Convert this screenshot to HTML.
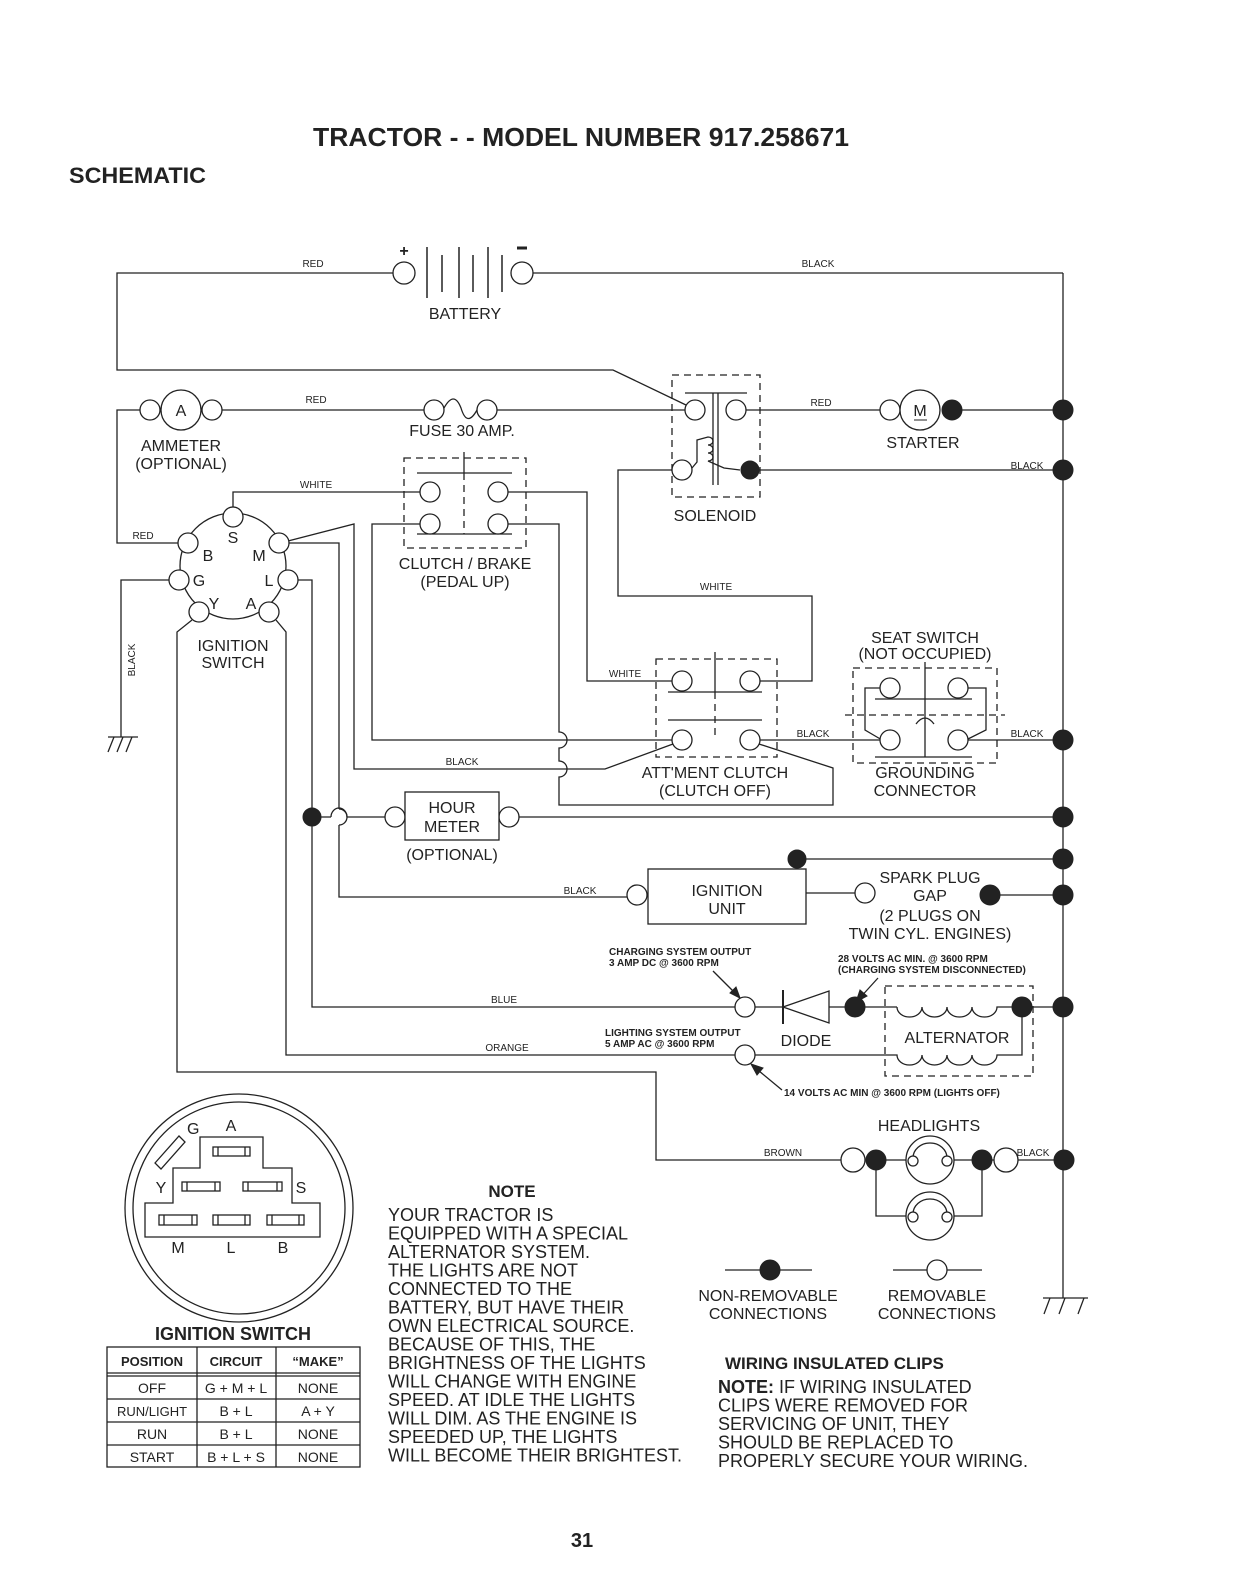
<!DOCTYPE html>
<html><head><meta charset="utf-8"><style>
html,body{margin:0;padding:0;background:#fff;}
svg{display:block;font-family:"Liberation Sans",Arial,sans-serif;}
.w{fill:none;stroke:#222;stroke-width:1.3;}
.o{fill:#fff;stroke:#222;stroke-width:1.3;}
.f{fill:#222;stroke:#222;stroke-width:1;}
.d{fill:none;stroke:#222;stroke-width:1.3;stroke-dasharray:7 5;}
.s{font-size:10px;fill:#222;}
.l{font-size:16px;fill:#222;}
.m{font-size:10px;fill:#222;font-weight:bold;}
</style></head><body>
<svg width="1244" height="1584" viewBox="0 0 1244 1584" xmlns="http://www.w3.org/2000/svg">
<text x="581" y="146" text-anchor="middle" font-size="26" font-weight="bold" fill="#222" textLength="536" lengthAdjust="spacingAndGlyphs">TRACTOR - - MODEL NUMBER 917.258671</text>
<text x="69" y="183" font-size="22" font-weight="bold" fill="#222" textLength="137" lengthAdjust="spacingAndGlyphs">SCHEMATIC</text>

<!-- battery -->
<polyline class="w" points="393,273 117,273 117,370 613,370 686,405"/>
<line class="w" x1="533" y1="273" x2="1063" y2="273"/>
<line class="w" x1="1063" y1="273" x2="1063" y2="1298"/>
<circle class="o" cx="404" cy="273" r="11"/>
<circle class="o" cx="522" cy="273" r="11"/>
<g stroke="#222" stroke-width="1.5">
<line x1="427" y1="247" x2="427" y2="298"/><line x1="442" y1="255" x2="442" y2="292"/>
<line x1="459" y1="247" x2="459" y2="298"/><line x1="473" y1="255" x2="473" y2="292"/>
<line x1="488" y1="247" x2="488" y2="298"/><line x1="502" y1="255" x2="502" y2="292"/>
</g>
<text x="404" y="256" text-anchor="middle" font-size="16" font-weight="bold" fill="#222">+</text>
<line x1="517" y1="248" x2="527" y2="248" stroke="#222" stroke-width="3"/>
<text x="465" y="319" text-anchor="middle" class="l">BATTERY</text>
<text x="313" y="267" text-anchor="middle" class="s">RED</text>
<text x="818" y="267" text-anchor="middle" class="s">BLACK</text>

<!-- ammeter -->
<polyline class="w" points="140,410 117,410 117,543 178,543"/>
<circle class="o" cx="150" cy="410" r="10"/>
<circle class="o" cx="181" cy="410" r="20"/>
<circle class="o" cx="212" cy="410" r="10"/>
<text x="181" y="416" text-anchor="middle" class="l">A</text>
<text x="181" y="451" text-anchor="middle" class="l">AMMETER</text>
<text x="181" y="469" text-anchor="middle" class="l">(OPTIONAL)</text>
<line class="w" x1="222" y1="410" x2="424" y2="410"/>
<text x="316" y="403" text-anchor="middle" class="s">RED</text>
<circle class="o" cx="434" cy="410" r="10"/>
<circle class="o" cx="487" cy="410" r="10"/>
<path class="w" d="M444,408 Q454,390 461,408 Q467,428 477,410"/>
<line class="w" x1="497" y1="410" x2="685" y2="410"/>
<text x="462" y="436" text-anchor="middle" class="l">FUSE 30 AMP.</text>

<!-- clutch/brake -->
<rect class="d" x="404" y="458" width="122" height="90"/>
<line class="w" x1="464" y1="452" x2="464" y2="473"/>
<line class="d" x1="464" y1="473" x2="464" y2="534"/>
<line class="w" x1="417" y1="473" x2="512" y2="473"/>
<line class="w" x1="417" y1="534" x2="512" y2="534"/>
<polyline class="w" points="233,507 233,492 420,492"/>
<text x="316" y="488" text-anchor="middle" class="s">WHITE</text>
<circle class="o" cx="430" cy="492" r="10"/>
<circle class="o" cx="498" cy="492" r="10"/>
<circle class="o" cx="430" cy="524" r="10"/>
<circle class="o" cx="498" cy="524" r="10"/>
<text x="465" y="569" text-anchor="middle" class="l">CLUTCH / BRAKE</text>
<text x="465" y="587" text-anchor="middle" class="l">(PEDAL UP)</text>
<polyline class="w" points="508,492 587,492 587,681 672,681"/>
<text x="625" y="677" text-anchor="middle" class="s">WHITE</text>
<polyline class="w" points="420,524 372,524 372,740 672,740"/>
<path class="w" d="M508,524 L559,524 L559,732 a8,8 0 0 1 0,16 L559,761 a8,8 0 0 1 0,16 L559,805 L833,805 L833,768 L759,744"/>

<!-- ignition switch -->
<circle class="w" cx="233" cy="566" r="53"/>
<polyline class="w" points="192,620 177,632 177,1072 656,1072 656,1160 841,1160"/>
<polyline class="w" points="276,620 286,632 286,1055 735,1055"/>
<polyline class="w" points="169,580 121,580 121,737"/>
<line class="w" x1="108" y1="737" x2="138" y2="737"/>
<g class="w"><line x1="114" y1="737" x2="108" y2="752"/><line x1="123" y1="737" x2="117" y2="752"/><line x1="132" y1="737" x2="126" y2="752"/></g>
<text transform="translate(135,660) rotate(-90)" text-anchor="middle" class="s">BLACK</text>
<text x="143" y="539" text-anchor="middle" class="s">RED</text>
<polyline class="w" points="288,541 354,524 354,769 605,769 673,744"/>
<polyline class="w" points="289,543 339,543 339,809"/>
<path class="w" d="M339,809 a8,8 0 0 1 0,16"/>
<polyline class="w" points="339,825 339,897 627,897"/>
<polyline class="w" points="298,580 312,580 312,1007 735,1007"/>
<circle class="o" cx="233" cy="517" r="10"/>
<circle class="o" cx="188" cy="543" r="10"/>
<circle class="o" cx="279" cy="543" r="10"/>
<circle class="o" cx="179" cy="580" r="10"/>
<circle class="o" cx="288" cy="580" r="10"/>
<circle class="o" cx="199" cy="612" r="10"/>
<circle class="o" cx="269" cy="612" r="10"/>
<g class="l"><text x="233" y="543" text-anchor="middle">S</text><text x="208" y="561" text-anchor="middle">B</text>
<text x="259" y="561" text-anchor="middle">M</text><text x="199" y="586" text-anchor="middle">G</text>
<text x="269" y="586" text-anchor="middle">L</text><text x="214" y="609" text-anchor="middle">Y</text>
<text x="251" y="609" text-anchor="middle">A</text></g>
<text x="233" y="651" text-anchor="middle" class="l">IGNITION</text>
<text x="233" y="668" text-anchor="middle" class="l">SWITCH</text>

<!-- solenoid -->
<rect class="d" x="672" y="375" width="88" height="122"/>
<line class="w" x1="685" y1="393" x2="747" y2="393"/>
<line class="w" x1="713" y1="393" x2="713" y2="485"/>
<line class="w" x1="718" y1="393" x2="718" y2="485"/>
<path class="w" d="M692,468 L697,462 L697,440 L708,437 a5,4 0 0 1 0,8 a5,4 0 0 1 0,8 a5,4 0 0 1 0,8 L724,468 L740,470"/>
<circle class="o" cx="695" cy="410" r="10"/>
<circle class="o" cx="736" cy="410" r="10"/>
<circle class="o" cx="682" cy="470" r="10"/>
<circle class="f" cx="750" cy="470" r="9"/>
<text x="715" y="521" text-anchor="middle" class="l">SOLENOID</text>
<polyline class="w" points="672,470 618,470 618,596 812,596 812,681 760,681"/>
<text x="716" y="590" text-anchor="middle" class="s">WHITE</text>
<line class="w" x1="746" y1="410" x2="880" y2="410"/>
<text x="821" y="406" text-anchor="middle" class="s">RED</text>
<circle class="o" cx="890" cy="410" r="10"/>
<circle class="o" cx="920" cy="410" r="20"/>
<text x="920" y="416" text-anchor="middle" class="l">M</text>
<line x1="914" y1="420" x2="927" y2="420" stroke="#222" stroke-width="1"/>
<circle class="f" cx="952" cy="410" r="10"/>
<line class="w" x1="962" y1="410" x2="1063" y2="410"/>
<text x="923" y="448" text-anchor="middle" class="l">STARTER</text>
<line class="w" x1="759" y1="470" x2="1063" y2="470"/>
<text x="1027" y="469" text-anchor="middle" class="s">BLACK</text>

<!-- attment clutch -->
<rect class="d" x="656" y="659" width="121" height="98"/>
<line class="w" x1="715" y1="652" x2="715" y2="692"/>
<line class="d" x1="715" y1="692" x2="715" y2="740"/>
<line class="w" x1="668" y1="692" x2="762" y2="692"/>
<line class="w" x1="668" y1="720" x2="762" y2="720"/>
<circle class="o" cx="682" cy="681" r="10"/>
<circle class="o" cx="750" cy="681" r="10"/>
<circle class="o" cx="682" cy="740" r="10"/>
<circle class="o" cx="750" cy="740" r="10"/>
<text x="715" y="778" text-anchor="middle" class="l">ATT'MENT CLUTCH</text>
<text x="715" y="796" text-anchor="middle" class="l">(CLUTCH OFF)</text>
<line class="w" x1="760" y1="740" x2="880" y2="740"/>
<text x="813" y="737" text-anchor="middle" class="s">BLACK</text>
<text x="462" y="765" text-anchor="middle" class="s">BLACK</text>

<!-- seat switch -->
<rect class="d" x="853" y="668" width="144" height="95"/>
<line class="d" x1="845" y1="715" x2="1005" y2="715"/>
<line class="w" x1="925" y1="662" x2="925" y2="757"/>
<line class="w" x1="875" y1="699" x2="972" y2="699"/>
<line class="w" x1="875" y1="757" x2="972" y2="757"/>
<path class="w" d="M916,724 Q925,712 934,724"/>
<polyline class="w" points="880,688 865,688 865,730 882,740"/>
<polyline class="w" points="968,688 986,688 986,730 966,740"/>
<circle class="o" cx="890" cy="688" r="10"/>
<circle class="o" cx="958" cy="688" r="10"/>
<circle class="o" cx="890" cy="740" r="10"/>
<circle class="o" cx="958" cy="740" r="10"/>
<line class="w" x1="968" y1="740" x2="1063" y2="740"/>
<text x="1027" y="737" text-anchor="middle" class="s">BLACK</text>
<text x="925" y="643" text-anchor="middle" class="l">SEAT SWITCH</text>
<text x="925" y="659" text-anchor="middle" class="l">(NOT OCCUPIED)</text>
<text x="925" y="778" text-anchor="middle" class="l">GROUNDING</text>
<text x="925" y="796" text-anchor="middle" class="l">CONNECTOR</text>

<!-- hour meter -->
<polyline class="w" points="312,817 331,817"/>
<path class="w" d="M331,817 a8,9 0 0 1 16,0"/>
<line class="w" x1="347" y1="817" x2="385" y2="817"/>
<circle class="o" cx="395" cy="817" r="10"/>
<circle class="o" cx="509" cy="817" r="10"/>
<rect class="o" x="405" y="792" width="94" height="48"/>
<text x="452" y="813" text-anchor="middle" class="l">HOUR</text>
<text x="452" y="832" text-anchor="middle" class="l">METER</text>
<text x="452" y="860" text-anchor="middle" class="l">(OPTIONAL)</text>
<line class="w" x1="519" y1="817" x2="1063" y2="817"/>
<circle class="f" cx="312" cy="817" r="9"/>

<!-- ignition unit -->
<text x="580" y="894" text-anchor="middle" class="s">BLACK</text>
<circle class="o" cx="637" cy="895" r="10"/>
<rect class="o" x="648" y="869" width="158" height="55"/>
<text x="727" y="896" text-anchor="middle" class="l">IGNITION</text>
<text x="727" y="914" text-anchor="middle" class="l">UNIT</text>
<line class="w" x1="806" y1="893" x2="855" y2="893"/>
<circle class="o" cx="865" cy="893" r="10"/>
<line class="w" x1="797" y1="859" x2="1063" y2="859"/>
<circle class="f" cx="797" cy="859" r="9"/>
<line class="w" x1="990" y1="895" x2="1063" y2="895"/>
<circle class="f" cx="990" cy="895" r="10"/>
<text x="930" y="883" text-anchor="middle" class="l">SPARK PLUG</text>
<text x="930" y="901" text-anchor="middle" class="l">GAP</text>
<text x="930" y="921" text-anchor="middle" class="l">(2 PLUGS ON</text>
<text x="930" y="939" text-anchor="middle" class="l">TWIN CYL. ENGINES)</text>

<!-- charging -->
<text x="609" y="955" class="m" font-size="9">CHARGING SYSTEM OUTPUT</text>
<text x="609" y="966" class="m" font-size="9">3 AMP DC @ 3600 RPM</text>
<line class="w" x1="713" y1="971" x2="738" y2="996"/>
<polygon class="f" points="740,998 730,993 736,987"/>
<text x="838" y="962" class="m" font-size="9">28 VOLTS AC MIN. @ 3600 RPM</text>
<text x="838" y="973" class="m" font-size="9">(CHARGING SYSTEM DISCONNECTED)</text>
<line class="w" x1="878" y1="978" x2="858" y2="1000"/>
<polygon class="f" points="856,1002 860,990 867,996"/>
<text x="504" y="1003" text-anchor="middle" class="s">BLUE</text>
<circle class="o" cx="745" cy="1007" r="10"/>
<line class="w" x1="755" y1="1007" x2="783" y2="1007"/>
<line x1="783" y1="990" x2="783" y2="1024" stroke="#222" stroke-width="2"/>
<polygon class="o" points="783,1007 829,991 829,1023"/>
<line class="w" x1="829" y1="1007" x2="897" y2="1007"/>
<circle class="f" cx="855" cy="1007" r="10"/>
<text x="806" y="1046" text-anchor="middle" class="l">DIODE</text>
<rect class="d" x="885" y="986" width="148" height="90"/>
<path class="w" d="M897,1007 a12.5,10 0 0 0 25,0 a12.5,10 0 0 0 25,0 a12.5,10 0 0 0 25,0 a12.5,10 0 0 0 25,0 L1063,1007"/>
<path class="w" d="M755,1055 L897,1055 a12.5,10 0 0 0 25,0 a12.5,10 0 0 0 25,0 a12.5,10 0 0 0 25,0 a12.5,10 0 0 0 25,0 L1022,1055 L1022,1007"/>
<circle class="f" cx="1022" cy="1007" r="10"/>
<text x="957" y="1043" text-anchor="middle" class="l">ALTERNATOR</text>
<circle class="o" cx="745" cy="1055" r="10"/>
<text x="507" y="1051" text-anchor="middle" class="s">ORANGE</text>
<text x="605" y="1036" class="m" font-size="9">LIGHTING SYSTEM OUTPUT</text>
<text x="605" y="1047" class="m" font-size="9">5 AMP AC @ 3600 RPM</text>
<line class="w" x1="782" y1="1090" x2="753" y2="1066"/>
<polygon class="f" points="751,1064 763,1068 757,1075"/>
<text x="784" y="1096" class="m" font-size="9">14 VOLTS AC MIN  @ 3600 RPM (LIGHTS OFF)</text>

<!-- headlights -->
<text x="929" y="1131" text-anchor="middle" class="l">HEADLIGHTS</text>
<text x="783" y="1156" text-anchor="middle" class="s">BROWN</text>
<text x="1033" y="1156" text-anchor="middle" class="s">BLACK</text>
<line class="w" x1="876" y1="1160" x2="907" y2="1160"/>
<line class="w" x1="953" y1="1160" x2="1064" y2="1160"/>
<polyline class="w" points="876,1160 876,1216 907,1216"/>
<polyline class="w" points="953,1216 982,1216 982,1160"/>
<circle class="o" cx="853" cy="1160" r="12"/>
<circle class="f" cx="876" cy="1160" r="10"/>
<circle class="f" cx="982" cy="1160" r="10"/>
<circle class="o" cx="1006" cy="1160" r="12"/>
<g>
<circle class="o" cx="930" cy="1160" r="24"/><path class="w" d="M913,1158 a17,15 0 0 1 34,0"/>
<circle class="o" cx="913" cy="1161" r="5"/><circle class="o" cx="947" cy="1161" r="5"/>
<circle class="o" cx="930" cy="1216" r="24"/><path class="w" d="M913,1214 a17,15 0 0 1 34,0"/>
<circle class="o" cx="913" cy="1217" r="5"/><circle class="o" cx="947" cy="1217" r="5"/>
</g>

<!-- rail dots -->
<g class="f">
<circle cx="1063" cy="410" r="10"/><circle cx="1063" cy="470" r="10"/><circle cx="1063" cy="740" r="10"/>
<circle cx="1063" cy="817" r="10"/><circle cx="1063" cy="859" r="10"/><circle cx="1063" cy="895" r="10"/>
<circle cx="1063" cy="1007" r="10"/><circle cx="1064" cy="1160" r="10"/>
</g>
<line class="w" x1="1043" y1="1298" x2="1088" y2="1298"/>
<g class="w"><line x1="1050" y1="1298" x2="1044" y2="1314"/><line x1="1065" y1="1298" x2="1059" y2="1314"/><line x1="1084" y1="1298" x2="1078" y2="1314"/></g>

<!-- legend -->
<line class="w" x1="725" y1="1270" x2="812" y2="1270"/>
<circle class="f" cx="770" cy="1270" r="10"/>
<line class="w" x1="893" y1="1270" x2="982" y2="1270"/>
<circle class="o" cx="937" cy="1270" r="10"/>
<text x="768" y="1301" text-anchor="middle" class="l">NON-REMOVABLE</text>
<text x="768" y="1319" text-anchor="middle" class="l">CONNECTIONS</text>
<text x="937" y="1301" text-anchor="middle" class="l">REMOVABLE</text>
<text x="937" y="1319" text-anchor="middle" class="l">CONNECTIONS</text>

<!-- ignition switch diagram -->
<circle class="w" cx="239" cy="1208" r="114"/>
<circle class="w" cx="239" cy="1208" r="106"/>
<polygon class="w" points="200,1137 263,1137 263,1168 292,1168 292,1203 320,1203 320,1237 145,1237 145,1203 173,1203 173,1168 200,1168"/>
<g class="w">
<rect x="213" y="1147" width="37" height="9"/><line x1="218" y1="1147" x2="218" y2="1156"/><line x1="245" y1="1147" x2="245" y2="1156"/>
<rect x="182" y="1182" width="38" height="9"/><line x1="187" y1="1182" x2="187" y2="1191"/><line x1="215" y1="1182" x2="215" y2="1191"/>
<rect x="243" y="1182" width="39" height="9"/><line x1="248" y1="1182" x2="248" y2="1191"/><line x1="277" y1="1182" x2="277" y2="1191"/>
<rect x="159" y="1215" width="38" height="10"/><line x1="164" y1="1215" x2="164" y2="1225"/><line x1="192" y1="1215" x2="192" y2="1225"/>
<rect x="213" y="1215" width="37" height="10"/><line x1="218" y1="1215" x2="218" y2="1225"/><line x1="245" y1="1215" x2="245" y2="1225"/>
<rect x="267" y="1215" width="37" height="10"/><line x1="272" y1="1215" x2="272" y2="1225"/><line x1="299" y1="1215" x2="299" y2="1225"/>
<polygon points="155,1163 179,1136 185,1142 161,1169"/>
</g>
<g class="l"><text x="187" y="1134">G</text><text x="231" y="1131" text-anchor="middle">A</text>
<text x="161" y="1193" text-anchor="middle">Y</text><text x="301" y="1193" text-anchor="middle">S</text>
<text x="178" y="1253" text-anchor="middle">M</text><text x="231" y="1253" text-anchor="middle">L</text><text x="283" y="1253" text-anchor="middle">B</text></g>
<text x="233" y="1340" text-anchor="middle" font-size="18" font-weight="bold" fill="#222">IGNITION SWITCH</text>

<!-- table -->
<rect class="w" x="107" y="1347" width="253" height="120"/>
<line class="w" x1="107" y1="1373" x2="360" y2="1373"/>
<line class="w" x1="107" y1="1376" x2="360" y2="1376"/>
<line class="w" x1="107" y1="1399" x2="360" y2="1399"/>
<line class="w" x1="107" y1="1422" x2="360" y2="1422"/>
<line class="w" x1="107" y1="1445" x2="360" y2="1445"/>
<line class="w" x1="197" y1="1347" x2="197" y2="1467"/>
<line class="w" x1="276" y1="1347" x2="276" y2="1467"/>
<g font-size="14" fill="#222" text-anchor="middle">
<text x="152" y="1366" font-weight="bold" font-size="13">POSITION</text><text x="236" y="1366" font-weight="bold" font-size="13">CIRCUIT</text><text x="318" y="1366" font-weight="bold" font-size="13">“MAKE”</text>
<text x="152" y="1393">OFF</text><text x="236" y="1393">G + M + L</text><text x="318" y="1393">NONE</text>
<text x="152" y="1416" font-size="13">RUN/LIGHT</text><text x="236" y="1416">B + L</text><text x="318" y="1416">A + Y</text>
<text x="152" y="1439">RUN</text><text x="236" y="1439">B + L</text><text x="318" y="1439">NONE</text>
<text x="152" y="1462">START</text><text x="236" y="1462">B + L + S</text><text x="318" y="1462">NONE</text>
</g>

<!-- note -->
<text x="512" y="1197" text-anchor="middle" font-size="17" font-weight="bold" fill="#222">NOTE</text>
<g font-size="18" fill="#222">
<text x="388" y="1221">YOUR TRACTOR IS</text>
<text x="388" y="1239.5">EQUIPPED WITH A SPECIAL</text>
<text x="388" y="1258">ALTERNATOR SYSTEM.</text>
<text x="388" y="1276.5">THE LIGHTS ARE NOT</text>
<text x="388" y="1295">CONNECTED TO THE</text>
<text x="388" y="1313.5">BATTERY, BUT HAVE THEIR</text>
<text x="388" y="1332">OWN ELECTRICAL SOURCE.</text>
<text x="388" y="1350.5">BECAUSE OF THIS, THE</text>
<text x="388" y="1369">BRIGHTNESS OF THE LIGHTS</text>
<text x="388" y="1387.5">WILL CHANGE WITH ENGINE</text>
<text x="388" y="1406">SPEED.  AT IDLE THE LIGHTS</text>
<text x="388" y="1424.5">WILL DIM.  AS THE ENGINE IS</text>
<text x="388" y="1443">SPEEDED UP, THE LIGHTS</text>
<text x="388" y="1461.5">WILL BECOME THEIR BRIGHTEST.</text>
</g>
<text x="725" y="1369" font-size="17" font-weight="bold" fill="#222">WIRING INSULATED CLIPS</text>
<g font-size="18" fill="#222">
<text x="718" y="1393"><tspan font-weight="bold">NOTE:</tspan> IF WIRING INSULATED</text>
<text x="718" y="1411.5">CLIPS WERE REMOVED FOR</text>
<text x="718" y="1430">SERVICING OF UNIT, THEY</text>
<text x="718" y="1448.5">SHOULD BE REPLACED TO</text>
<text x="718" y="1467">PROPERLY SECURE YOUR WIRING.</text>
</g>
<text x="582" y="1547" text-anchor="middle" font-size="20" font-weight="bold" fill="#222">31</text>
</svg>
</body></html>
